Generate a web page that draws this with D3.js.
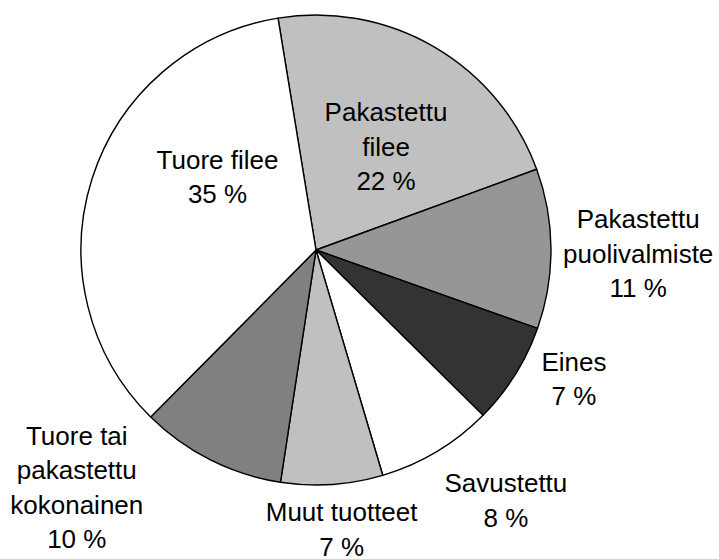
<!DOCTYPE html>
<html>
<head>
<meta charset="utf-8">
<script src="https://cdn.jsdelivr.net/npm/d3@7"></script>
<style>
  html, body { margin: 0; padding: 0; background: #fff; }
</style>
</head>
<body>
<svg id="chart" width="719" height="559"></svg>
<script>
// data, clockwise from the top
const categories = ["Pakastettu\nfilee", "Pakastettu\npuolivalmiste", "Eines", "Savustettu",
  "Muut tuotteet", "Tuore tai\npakastettu\nkokonainen", "Tuore filee"];
const shares = [22, 11, 7, 8, 7, 10, 35];
const fills = ["#c0c0c0", "#969696", "#333333", "#ffffff", "#c0c0c0", "#808080", "#ffffff"];

// layout
const width = 719, height = 559;
const cx = 316, cy = 250, radius = 235;
const startDeg = -9.3;
const fontSize = 26, lineH = 34.5;
// label block centres, relative to pie centre, in radius units
const labelOffset = [[0.298, -0.44], [1.371, 0.015], [1.098, 0.548], [0.808, 1.064],
  [0.109, 1.189], [-1.018, 1.009], [-0.419, -0.312]];

const svg = d3.select("#chart");
const g = svg.append("g").attr("transform", `translate(${cx},${cy})`);

const start = startDeg * Math.PI / 180;
const pie = d3.pie().sort(null).value(d => d.v)
  .startAngle(start).endAngle(start + 2 * Math.PI);
const arc = d3.arc().innerRadius(0).outerRadius(radius);

const rows = categories.map((c, i) => ({ name: c, v: shares[i], fill: fills[i], off: labelOffset[i] }));
const arcs = pie(rows);

g.selectAll("path")
  .data(arcs)
  .join("path")
  .attr("d", arc)
  .attr("fill", d => d.data.fill)
  .attr("stroke", "#000")
  .attr("stroke-width", 1.4)
  .attr("stroke-linejoin", "round");

const labels = g.selectAll("text.lbl")
  .data(arcs)
  .join("text")
  .attr("class", "lbl")
  .attr("text-anchor", "middle")
  .attr("font-family", "'Liberation Sans', Arial, sans-serif")
  .attr("font-size", fontSize)
  .attr("fill", "#000");

labels.each(function(d) {
  const lines = d.data.name.split("\n").concat([d.data.v + " %"]);
  const x = d.data.off[0] * radius;
  const yMid = d.data.off[1] * radius;
  const y0 = yMid - (lines.length - 1) * lineH / 2 + fontSize * 0.358;
  d3.select(this).selectAll("tspan")
    .data(lines)
    .join("tspan")
    .attr("x", x)
    .attr("y", (t, j) => y0 + j * lineH)
    .text(t => t);
});
</script>
</body>
</html>
